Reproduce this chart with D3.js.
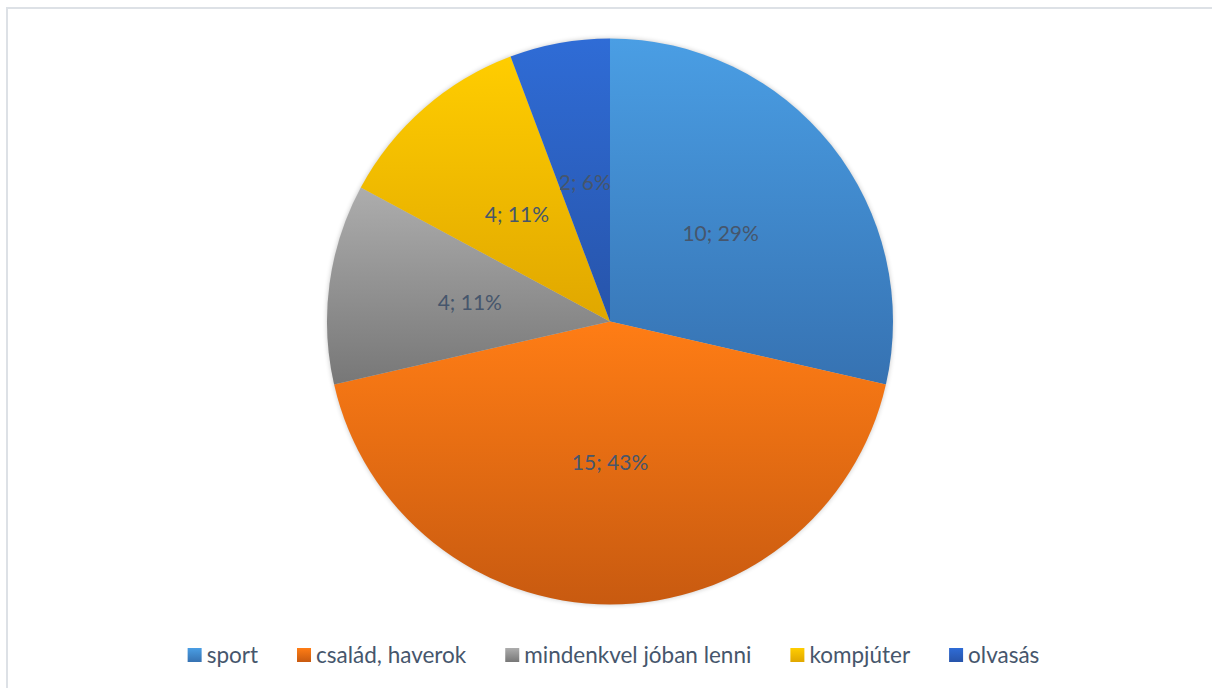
<!DOCTYPE html>
<html><head><meta charset="utf-8">
<script src="https://cdn.jsdelivr.net/npm/d3@7/dist/d3.min.js"></script>
<style>body{margin:0;background:#fff}svg{display:block}</style>
</head><body>
<svg id="c" width="1212" height="688"></svg>
<script>
const categories = ["sport", "család, haverok", "mindenkvel jóban lenni", "kompjúter", "olvasás"];
const values = [10, 15, 4, 4, 2];
const percentLabels = ["29%", "43%", "11%", "11%", "6%"];
const topColors = ["#4a9ee4", "#ff7d15", "#adadad", "#ffcd00", "#2f6cd6"];
const bottomColors = ["#3672b2", "#c85a10", "#777777", "#e0a700", "#2754aa"];

const svg = d3.select("#c");
const W = 1212, H = 688;
svg.append("rect").attr("x", 7).attr("y", 8).attr("width", W + 10).attr("height", H + 10)
  .attr("fill", "#fff").attr("stroke", "#dde1e6").attr("stroke-width", 2);

const defs = svg.append("defs");
categories.forEach((c, i) => {
  const g = defs.append("linearGradient").attr("id", "g" + i)
    .attr("x1", 0).attr("y1", 0).attr("x2", 0).attr("y2", 1);
  g.append("stop").attr("offset", "0%").attr("stop-color", topColors[i]);
  g.append("stop").attr("offset", "100%").attr("stop-color", bottomColors[i]);
});
const f = defs.append("filter").attr("id", "blur").attr("x", "-10%").attr("y", "-10%").attr("width", "120%").attr("height", "120%");
f.append("feGaussianBlur").attr("stdDeviation", 2.5);

const cx = 610, cy = 321.5, r = 283;
const pie = d3.pie().sort(null).value(d => d)(values);
const arc = d3.arc().innerRadius(0).outerRadius(r);
const labelArc = d3.arc().innerRadius(r * 0.5).outerRadius(r * 0.5);

const g = svg.append("g").attr("transform", `translate(${cx},${cy})`);
g.append("circle").attr("r", r).attr("fill", "#000").attr("opacity", 0.22).attr("filter", "url(#blur)");
g.append("g").selectAll("path").data(pie).join("path")
  .attr("d", arc).attr("fill", (d, i) => `url(#g${i})`);

const font = "Lato, Carlito, 'Noto Sans', sans-serif";
g.selectAll("text.lbl").data(pie).join("text").attr("class", "lbl")
  .attr("transform", d => `translate(${labelArc.centroid(d)})`)
  .attr("text-anchor", "middle").attr("dy", "0.35em")
  .attr("font-family", font).attr("font-size", 21).attr("fill", "#46566c")
  .text((d, i) => `${values[i]}; ${percentLabels[i]}`);

// legend
const lg = svg.append("g");
const items = lg.selectAll("g").data(categories).join("g");
items.append("rect").attr("width", 14).attr("height", 14).attr("y", -7)
  .attr("fill", (d, i) => `url(#g${i})`);
items.append("text").attr("x", 19).attr("dy", "0.35em")
  .attr("font-family", font).attr("font-size", 22.5).attr("fill", "#46566c")
  .text(d => d);
let x = 0; const gap = 39;
const xs = [];
items.each(function () {
  const w = this.querySelector("text").getComputedTextLength() + 19;
  xs.push(x); x += w + gap;
});
const total = x - gap;
const x0 = 613.5 - total / 2;
items.attr("transform", (d, i) => `translate(${x0 + xs[i]},655)`);
</script>
</body></html>
